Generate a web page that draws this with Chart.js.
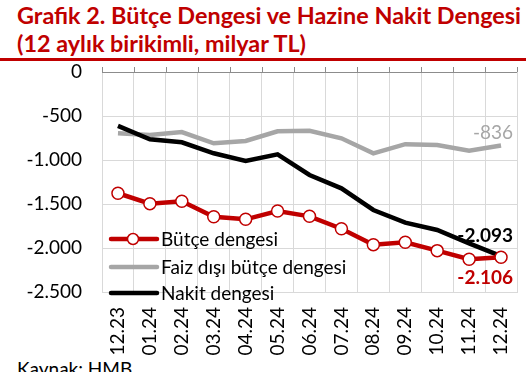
<!DOCTYPE html>
<html>
<head>
<meta charset="utf-8">
<script src="https://cdn.jsdelivr.net/npm/chart.js@4/dist/chart.umd.min.js"></script>
<style>
  body { margin: 0; background: #fff; }
  #wrap { position: relative; width: 526px; height: 372px; overflow: hidden; }
  .title { position: absolute; left: 17px; font-family: Lato, "Open Sans", sans-serif; font-weight: bold; font-size: 23.4px; line-height: 26px; color: #C00000; white-space: nowrap; }
  #rule { position: absolute; left: 0; top: 58px; width: 526px; height: 3px; background: #C00000; }
  #src { position: absolute; left: 17px; top: 358px; font-family: Lato, sans-serif; font-size: 19px; line-height: 22px; color: #000; }
  canvas { position: absolute; left: 0; top: 0; }
</style>
</head>
<body>
<div id="wrap">
  <div class="title" style="top:2px">Grafik 2. Bütçe Dengesi ve Hazine Nakit Dengesi</div>
  <div class="title" style="top:30px">(12 aylık birikimli, milyar TL)</div>
  <div id="rule"></div>
  <div id="src">Kaynak: HMB</div>
  <canvas id="chart" width="526" height="372"></canvas>
</div>
<script>
const months = ["12.23","01.24","02.24","03.24","04.24","05.24","06.24","07.24","08.24","09.24","10.24","11.24","12.24"];
const butceDengesi = [-1378,-1496,-1469,-1644,-1674,-1579,-1640,-1781,-1962,-1935,-2030,-2128,-2106];
const faizDisi = [-697,-716,-682,-810,-784,-674,-667,-753,-924,-820,-829,-894,-836];
const nakitDengesi = [-613,-765,-799,-924,-1011,-935,-1170,-1322,-1568,-1712,-1795,-1947,-2093];
const yTicks = [0,-500,-1000,-1500,-2000,-2500];

const RED = "#C00000", GREY = "#A6A6A6", BLACK = "#000000";
const FONT = "Lato, 'Open Sans', sans-serif";

function fmt(v){
  let s = Math.abs(v).toString().replace(/\B(?=(\d{3})+(?!\d))/g, ".");
  return (v < 0 ? "-" : "") + s;
}

// tick marks on the 0 line, legend inside the plot, end labels
const extras = {
  id: "extras",
  afterDatasetsDraw(chart){
    const ctx = chart.ctx;
    const x = chart.scales.x, y = chart.scales.y;
    const ca = chart.chartArea;
    const band = (ca.right - ca.left) / months.length;
    ctx.save();
    ctx.strokeStyle = "#8c8c8c";
    ctx.lineWidth = 1;
    ctx.beginPath();
    ctx.moveTo(ca.left, ca.top + 0.5);
    ctx.lineTo(ca.right, ca.top + 0.5);
    for (let i = 0; i <= months.length; i++){
      const px = Math.round(ca.left + i * band) + 0.5;
      ctx.moveTo(px, ca.top);
      ctx.lineTo(px, ca.top - 5);
    }
    ctx.stroke();

    const items = [
      {label: "Bütçe dengesi", color: RED, marker: true, yy: 239},
      {label: "Faiz dışı bütçe dengesi", color: GREY, marker: false, yy: 267},
      {label: "Nakit dengesi", color: BLACK, marker: false, yy: 293}
    ];
    ctx.font = "19px " + FONT;
    ctx.textBaseline = "middle";
    ctx.textAlign = "left";
    items.forEach(it => {
      ctx.strokeStyle = it.color;
      ctx.lineWidth = 4.5;
      ctx.lineCap = "round";
      ctx.beginPath();
      ctx.moveTo(111, it.yy);
      ctx.lineTo(157, it.yy);
      ctx.stroke();
      if (it.marker){
        ctx.beginPath();
        ctx.arc(133, it.yy, 5.5, 0, Math.PI * 2);
        ctx.fillStyle = "#fff";
        ctx.fill();
        ctx.lineWidth = 1.5;
        ctx.stroke();
      }
      ctx.fillStyle = "#000";
      ctx.fillText(it.label, 161, it.yy + 1);
    });

    const last = months.length - 1;
    const lx = x.getPixelForValue(last) + 12;
    ctx.textAlign = "right";
    ctx.font = "19px " + FONT;
    ctx.fillStyle = GREY;
    ctx.fillText(fmt(faizDisi[last]), lx, y.getPixelForValue(faizDisi[last]) - 13);
    ctx.font = "bold 19px " + FONT;
    ctx.fillStyle = BLACK;
    ctx.fillText(fmt(nakitDengesi[last]), lx, y.getPixelForValue(nakitDengesi[last]) - 20);
    ctx.fillStyle = RED;
    ctx.fillText(fmt(butceDengesi[last]), lx, y.getPixelForValue(butceDengesi[last]) + 21);
    ctx.restore();
  }
};

new Chart(document.getElementById("chart"), {
  type: "line",
  data: {
    labels: months,
    datasets: [
      {label: "Faiz dışı bütçe dengesi", data: faizDisi, borderColor: GREY, borderWidth: 4.5, pointRadius: 0, tension: 0, order: 3},
      {label: "Nakit dengesi", data: nakitDengesi, borderColor: BLACK, borderWidth: 4.5, pointRadius: 0, tension: 0, order: 2},
      {label: "Bütçe dengesi", data: butceDengesi, borderColor: RED, borderWidth: 4.5, pointRadius: 6, pointBorderWidth: 1.5,
        pointBackgroundColor: "#fff", pointBorderColor: RED, tension: 0, order: 1}
    ]
  },
  options: {
    responsive: false,
    animation: false,
    layout: { padding: { top: 72, right: 9, left: 0, bottom: 0 } },
    plugins: { legend: { display: false }, tooltip: { enabled: false } },
    scales: {
      x: {
        offset: true,
        grid: { offset: true, color: "#d9d9d9", drawTicks: false },
        border: { color: "#d9d9d9" },
        ticks: { minRotation: 90, maxRotation: 90, padding: 15, color: "#000", font: { family: FONT, size: 19 } },
        afterFit(s){ s.height = 80; s.paddingLeft = 0; s.paddingRight = 0; }
      },
      y: {
        min: -2500, max: 0,
        afterBuildTicks(s){ s.ticks = yTicks.map(v => ({value: v})); },
        grid: { color: "#d9d9d9", drawTicks: false },
        border: { display: false },
        ticks: { padding: 20, color: "#000", font: { family: FONT, size: 19 }, callback: v => fmt(v) },
        afterFit(s){ s.width = 102; s.paddingTop = 0; s.paddingBottom = 0; }
      }
    }
  },
  plugins: [extras]
});
</script>
</body>
</html>
